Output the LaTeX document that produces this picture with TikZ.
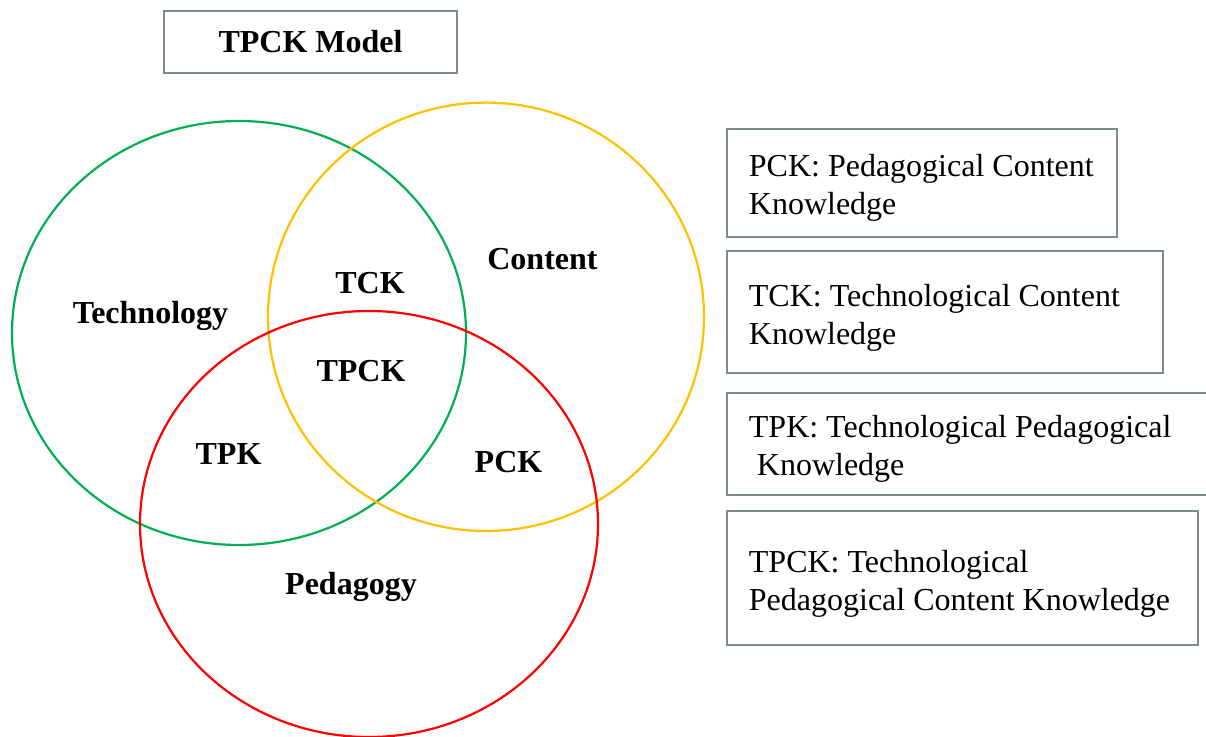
\documentclass[tikz,border=0pt]{standalone}
\usepackage{fontspec}
\setmainfont{Liberation Serif}
\definecolor{techgreen}{RGB}{0,176,80}
\definecolor{contyellow}{RGB}{255,192,0}
\definecolor{pedred}{RGB}{255,0,0}
\definecolor{boxgray}{RGB}{125,139,140}

\begin{document}
\begin{tikzpicture}[x=0.5pt, y=-0.5pt,
        area/.style={font=\fontsize{16}{19}\selectfont\bfseries, inner sep=0pt, anchor=base},
        deftext/.style={font=\fontsize{16}{19}\selectfont, align=left, inner sep=0pt, anchor=base west},
        boxline/.style={draw=boxgray, line width=1pt},
        ring/.style={line width=1.1pt}
    ]
    \useasboundingbox (0,0) rectangle (1206,737);

    % the three circles
    \draw[ring, techgreen] (239,333) ellipse (227 and 212);
    \draw[ring, contyellow] (486,316.8) ellipse (218 and 214.2);
    \draw[ring, pedred] (369,524) ellipse (229 and 213);

    \begin{scope}[every node/.style={area}]
        \node (tech) at (150.5,323.2) {Technology};
        \node (cont) at (542.5,269.2) {Content};
        \node (tck) at (370,293.2) {TCK};
        \node (tpck) at (361,382) {TPCK};
        \node (tpk) at (228.5,464.5) {TPK};
        \node (pck) at (508.5,472.8) {PCK};
        \node (ped) at (351,594.5) {Pedagogy};
    \end{scope}

    \draw[boxline] (164,11) rectangle (457,73);
    \node[area] (title) at (310.5,53) {TPCK Model};

    % definitions, anchored at the last line
    \draw[boxline] (727,129) rectangle (1117,237);
    \draw[boxline] (727,251) rectangle (1163,373);
    \draw[boxline] (727,393) rectangle (1212,495);
    \draw[boxline] (727,511) rectangle (1197.5,645.5);
    \node[deftext] (pckdef) at (748.5,214.5) {PCK: Pedagogical Content\\Knowledge};
    \node[deftext] (tckdef) at (748.5,344.5) {TCK: Technological Content\\Knowledge};
    \node[deftext] (tpkdef) at (748.5,476) {TPK: Technological Pedagogical\\\hspace*{4pt}Knowledge};
    \node[deftext] (tpckdef) at (748.5,610.5) {TPCK: Technological\\Pedagogical Content Knowledge};

\end{tikzpicture}
\end{document}
